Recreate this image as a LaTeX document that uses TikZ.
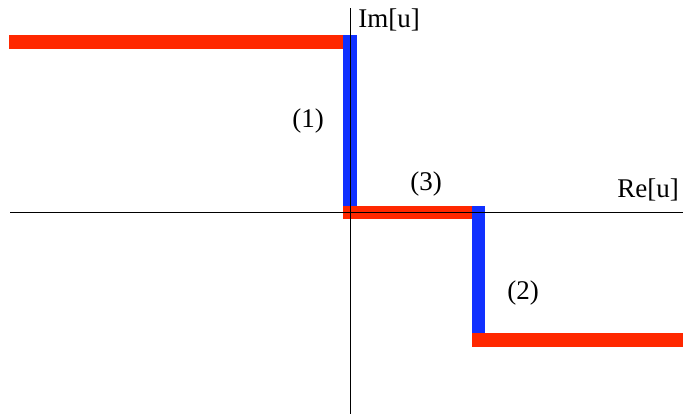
\documentclass[tikz,border=0pt]{standalone}
\usepackage{fontspec}
\setmainfont{Liberation Serif}
\usetikzlibrary{positioning}
\definecolor{segred}{RGB}{255,40,0}
\definecolor{segblue}{RGB}{16,48,255}

\begin{document}
\begin{tikzpicture}[
  x=1pt,y=1pt,
  lbl/.style={inner sep=0pt,font=\fontsize{27}{30}\selectfont},
  axis/.style={line width=0.8pt},
  redseg/.style={fill=segred},
  blueseg/.style={fill=segblue}
]
\useasboundingbox (0,0) rectangle (683,414);
% axes
\coordinate (xl) at (10,202);
\coordinate (xr) at (683,202);
\coordinate (yb) at (350,0);
\coordinate (yt) at (350,406);
% segments
\fill[redseg] (9,365) rectangle (343,379);
\fill[blueseg] (343,195) rectangle (357,379);
\fill[redseg] (343,195) rectangle (472,208);
\fill[blueseg] (472,67) rectangle (485,208);
\fill[redseg] (472,67) rectangle (683,81);
\draw[axis] (xl) -- (xr);
\draw[axis] (yb) -- (yt);
% labels
\node[lbl] (im) at (389,394) {Im[u]};
\node[lbl] (re) at (648,224) {Re[u]};
\node[lbl] (s1) at (308,293) {(1)};
\node[lbl] (s3) at (426,230) {(3)};
\node[lbl] (s2) at (523,121) {(2)};
\end{tikzpicture}
\end{document}
